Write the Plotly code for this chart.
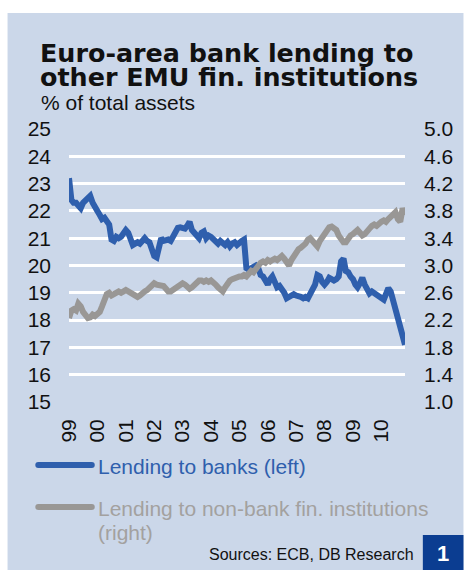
import plotly.graph_objects as go
import pandas as pd

# ---- data (monthly, Jan 1999 - Nov 2010) ----
months = pd.date_range("1999-01-01", "2010-11-01", freq="MS")

banks_left = [
    23.2, 22.4, 22.3, 22.3, 22.2, 22.1, 22.3, 22.4, 22.5, 22.55, 22.3, 22.1,
    22.0, 21.85, 21.7, 21.75, 21.6, 21.5, 20.95, 20.9, 21.05, 21.0, 21.05, 21.2,
    21.3, 21.2, 20.9, 20.75, 20.8, 20.85, 20.8, 20.9, 21.0, 20.9, 20.85, 20.6,
    20.35, 20.3, 20.7, 21.0, 20.9, 20.95, 20.95, 20.9, 21.1, 21.3, 21.38, 21.4,
    21.4, 21.35, 21.45, 21.6, 21.3, 21.2, 21.1, 21.0, 21.2, 21.25, 21.0, 21.1,
    21.05, 20.95, 20.85, 20.8, 20.9, 20.85, 20.75, 20.85, 20.7, 20.8, 20.85, 20.75,
    20.85, 20.9, 20.95, 19.9, 19.85, 19.9, 19.95, 20.0, 19.9, 19.65, 19.6, 19.4,
    19.3, 19.5, 19.6, 19.4, 19.2, 19.25, 19.15, 19.0, 18.8, 18.85, 18.95, 18.95,
    18.9, 18.9, 18.85, 18.8, 18.85, 18.8, 19.0, 19.2, 19.3, 19.65, 19.6, 19.4,
    19.3, 19.4, 19.55, 19.5, 19.45, 19.5, 19.6, 20.15, 20.25, 19.8, 19.75, 19.6,
    19.5, 19.3, 19.2, 19.35, 19.55, 19.3, 19.1, 18.98, 19.05, 19.0, 18.9, 18.85,
    18.8, 18.75, 18.95, 19.17, 19.05, 18.7, 18.3, 18.15, 17.8, 17.4, 17.1,
]

nonbank_right = [
    2.23, 2.34, 2.36, 2.34, 2.44, 2.40, 2.32, 2.26, 2.23, 2.24, 2.28, 2.26,
    2.28, 2.32, 2.40, 2.48, 2.58, 2.60, 2.56, 2.58, 2.60, 2.62, 2.60, 2.62,
    2.64, 2.62, 2.60, 2.60, 2.58, 2.54, 2.56, 2.60, 2.62, 2.64, 2.68, 2.72,
    2.74, 2.72, 2.72, 2.72, 2.70, 2.66, 2.62, 2.62, 2.64, 2.66, 2.68, 2.72,
    2.74, 2.72, 2.68, 2.66, 2.68, 2.72, 2.76, 2.78, 2.78, 2.76, 2.78, 2.76,
    2.78, 2.76, 2.72, 2.68, 2.64, 2.62, 2.68, 2.74, 2.78, 2.80, 2.82, 2.82,
    2.84, 2.84, 2.86, 2.84, 2.88, 2.92, 2.90, 2.96, 3.00, 3.04, 3.06, 3.04,
    3.08, 3.06, 3.08, 3.10, 3.08, 3.12, 3.14, 3.10, 3.04, 3.00, 3.08, 3.14,
    3.20, 3.24, 3.26, 3.28, 3.32, 3.38, 3.40, 3.36, 3.30, 3.28, 3.36, 3.42,
    3.48, 3.52, 3.56, 3.57, 3.54, 3.52, 3.44, 3.40, 3.34, 3.34, 3.40, 3.44,
    3.46, 3.48, 3.52, 3.48, 3.44, 3.46, 3.52, 3.54, 3.58, 3.60, 3.58, 3.62,
    3.64, 3.66, 3.64, 3.68, 3.72, 3.76, 3.78, 3.68, 3.64, 3.84, 3.74,
]

year_ticks = [f"{y}-01-01" for y in range(1999, 2011)]
year_labels = ["99", "00", "01", "02", "03", "04", "05", "06", "07", "08", "09", "10"]

left_ticks = list(range(15, 26))
right_ticks = [1.0, 1.4, 1.8, 2.2, 2.6, 3.0, 3.4, 3.8, 4.2, 4.6, 5.0]

# ---- styling ----
W, H = 466, 570
L, R, T, B = 69, 408, 129, 402
BG = "#CBD7E9"
BLUE = "#2F5FAD"
GREY = "#999795"
FONT = "Liberation Sans, Arial, sans-serif"
TFONT = "DejaVu Sans, Arial Black, sans-serif"


def px(x):
    return (x - L) / (R - L)


def py(y):
    return (B - y) / (B - T)


fig = go.Figure()
fig.add_trace(go.Scatter(x=months, y=nonbank_right, yaxis="y2", mode="lines",
                         line=dict(color=GREY, width=6), showlegend=False,
                         name="Lending to non-bank fin. institutions (right)"))
fig.add_trace(go.Scatter(x=months, y=banks_left, mode="lines",
                         line=dict(color=BLUE, width=6), showlegend=False,
                         name="Lending to banks (left)"))


def legend_sample(y, color):
    out = [dict(type="line", xref="paper", yref="paper", x0=px(38), x1=px(92),
                y0=py(y), y1=py(y), line=dict(color=color, width=6))]
    for cx in (38, 92):
        out.append(dict(type="circle", xref="paper", yref="paper",
                        x0=px(cx - 3), x1=px(cx + 3), y0=py(y + 3), y1=py(y - 3),
                        fillcolor=color, line=dict(width=0)))
    return out


shapes = [
    dict(type="rect", xref="paper", yref="paper", x0=px(7), x1=px(467),
         y0=py(571), y1=py(13), fillcolor=BG, line=dict(width=0), layer="below"),
    dict(type="rect", xref="paper", yref="paper", x0=px(426), x1=px(467),
         y0=py(571), y1=py(535), fillcolor="#0B3D91", line=dict(width=0)),
] + legend_sample(465, BLUE) + legend_sample(507, GREY)

annotations = [
    dict(text="<b>Euro-area bank lending to</b>", x=px(38), y=py(53), xanchor="left",
         yanchor="middle", font=dict(size=25.4, color="#111111", family=TFONT)),
    dict(text="<b>other EMU fin. institutions</b>", x=px(38), y=py(77), xanchor="left",
         yanchor="middle", font=dict(size=25.4, color="#111111", family=TFONT)),
    dict(text="% of total assets", x=px(39), y=py(103), xanchor="left",
         yanchor="middle", font=dict(size=21, color="#111111", family=FONT)),
    dict(text="Lending to banks (left)", x=px(96), y=py(466), xanchor="left",
         yanchor="middle", font=dict(size=21, color=BLUE, family=FONT)),
    dict(text="Lending to non-bank fin. institutions", x=px(96), y=py(508),
         xanchor="left", yanchor="middle",
         font=dict(size=21, color="#A3A19F", family=FONT)),
    dict(text="(right)", x=px(96), y=py(532),
         xanchor="left", yanchor="middle",
         font=dict(size=21, color="#A3A19F", family=FONT)),
    dict(text="Sources: ECB, DB Research", x=px(419), y=py(554), xanchor="right",
         yanchor="middle", font=dict(size=16, color="#111111", family=FONT)),
    dict(text="<b>1</b>", x=px(446), y=py(553), xanchor="center",
         yanchor="middle", font=dict(size=22, color="white", family=FONT)),
]
for a in annotations:
    a.update(xref="paper", yref="paper", showarrow=False)

fig.update_layout(
    width=W, height=H,
    margin=dict(l=L, r=W - R, t=T, b=H - B, pad=0),
    paper_bgcolor="white", plot_bgcolor=BG,
    font=dict(family=FONT, size=21, color="#111111"),
    shapes=shapes, annotations=annotations,
    xaxis=dict(type="date", range=["1999-01-01", "2010-11-01"],
               tickvals=year_ticks, ticktext=year_labels, tickangle=-90,
               showgrid=False, zeroline=False, showline=False, ticks="",
               ticklabelstandoff=12, tickfont=dict(size=21)),
    yaxis=dict(range=[15, 25], tickvals=left_ticks, showgrid=True,
               gridcolor="white", gridwidth=3, zeroline=False, showline=False,
               ticks="", ticklabelstandoff=17, tickfont=dict(size=21)),
    yaxis2=dict(range=[1, 5], tickvals=right_ticks, tickformat=".1f",
                overlaying="y", side="right", showgrid=False, zeroline=False,
                showline=False, ticks="", ticklabelstandoff=18,
                tickfont=dict(size=21)),
)

fig.write_html("out.html", config={"displayModeBar": False},
               post_script="document.body.style.margin='0';document.body.style.overflow='hidden';")
